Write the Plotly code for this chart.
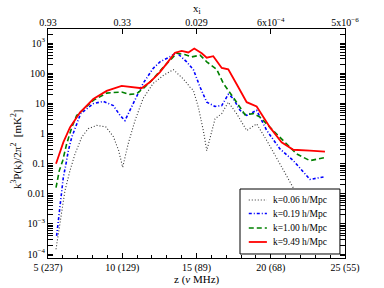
import plotly.graph_objects as go

# ---- data ----
z_k006 = [5.54, 5.69, 5.92, 6.14, 6.48, 6.82, 7.27, 7.71, 8.28, 8.9, 9.4, 9.75, 10.03, 10.4, 10.86,
          11.4, 12.08, 12.77, 13.44, 14.1, 14.56, 14.79, 15.12, 15.46, 15.69, 16.02, 16.25, 16.7,
          17.14, 17.7, 18.38, 19.05, 19.73, 20.62, 21.52, 22.3, 23.0]
p_k006 = [1.45e-4, 4.6e-4, 2.7e-3, 0.0126, 0.059, 0.21, 0.76, 1.45, 1.86, 1.66, 0.79, 0.28, 0.076,
          0.46, 2.7, 14.5, 46, 85, 132, 66, 35, 27, 7.6, 1.26, 0.27, 1.26, 3.1, 4.6, 11, 4.6, 1.26,
          2.1, 0.59, 0.098, 0.016, 3.2e-3, 6.3e-4]

z_k019 = [5.58, 5.69, 5.81, 5.92, 6.03, 6.21, 6.37, 6.6, 6.93, 7.2, 8.05, 8.72, 9.4, 9.85, 10.18,
          10.75, 11.4, 12.08, 12.54, 13.2, 13.67, 14.34, 14.79, 15.24, 15.69, 16.25, 16.7, 17.14,
          17.48, 17.93, 18.38, 19.05, 19.73, 20.62, 21.52, 22.64, 23.65]
p_k019 = [4e-4, 1.26e-3, 3.5e-3, 0.01, 0.035, 0.098, 0.27, 0.76, 2.1, 4.6, 9.8, 11.7, 8.5, 4.0, 2.7,
          9.8, 46, 145, 240, 350, 480, 240, 132, 35, 11, 7.9, 8.5, 20, 14.5, 5.9, 4.0, 5.9, 1.26,
          0.31, 0.126, 0.030, 0.037]

z_k100 = [5.54, 5.76, 5.99, 6.26, 6.6, 6.93, 7.5, 8.05, 8.95, 9.96, 10.5, 10.97, 11.4, 12.0, 12.77,
          13.67, 14.2, 14.68, 15.24, 15.69, 16.36, 16.81, 17.7, 18.27, 18.83, 19.28, 19.95, 20.73,
          21.75, 22.64, 23.65]
p_k100 = [0.016, 0.059, 0.126, 0.46, 1.6, 4.0, 7.1, 12.6, 22, 24, 20, 21, 31, 59, 160, 460, 420,
          350, 400, 240, 135, 46, 11, 4.2, 4.6, 3.5, 1.6, 0.66, 0.21, 0.126, 0.16]

z_k949 = [5.54, 6.03, 6.48, 7.15, 8.05, 8.95, 9.96, 10.6, 11.3, 11.87, 12.54, 12.99, 13.55, 14.0,
          14.45, 14.85, 15.35, 15.69, 16.13, 16.7, 17.14, 17.81, 18.38, 19.05, 19.95, 20.73, 21.52,
          22.64, 23.65]
p_k949 = [0.10, 0.51, 1.6, 5.0, 14, 26, 38, 35, 32, 51, 110, 210, 480, 550, 490, 660, 460, 330, 370,
          150, 135, 35, 11, 7.9, 1.6, 0.51, 0.29, 0.27, 0.25]

x_tickvals = [5, 10, 15, 20, 25]
x_ticktext = ["5 (237)", "10 (129)", "15 (89)", "20 (68)", "25 (55)"]
xi_ticktext = ["0.93", "0.33", "0.029", "6x10<sup>−4</sup>", "5x10<sup>−6</sup>"]
y_tickvals = [1e-4, 1e-3, 1e-2, 1e-1, 1, 10, 100, 1000]
y_ticktext = ["10<sup>−4</sup>", "10<sup>−3</sup>", "0.01", "0.1", "1", "10", "100", "10<sup>3</sup>"]
labels = ["k=0.06 h/Mpc", "k=0.19 h/Mpc", "k=1.00 h/Mpc", "k=9.49 h/Mpc"]

FONT = "Liberation Serif"

styles = [dict(color="#333333", width=1.1, dash="1px,2px"),
          dict(color="#0000ff", width=1.6, dash="3px,2px,1px,2px"),
          dict(color="#008000", width=1.6, dash="5px,3px"),
          dict(color="#ff0000", width=1.8)]
series = [(z_k006, p_k006), (z_k019, p_k019), (z_k100, p_k100), (z_k949, p_k949)]

fig = go.Figure()
for (zz, pp), lab, st in zip(series, labels, styles):
    fig.add_trace(go.Scatter(x=zz, y=pp, mode="lines", name=lab, line=st, showlegend=False))
# invisible helper trace so the top (x_i) axis is drawn
fig.add_trace(go.Scatter(x=z_k949, y=p_k949, xaxis="x2", yaxis="y", mode="lines",
                         line=dict(width=0, color="rgba(0,0,0,0)"), showlegend=False,
                         hoverinfo="skip"))

minor_y = [m * 10.0 ** e for e in range(-5, 4) for m in range(2, 10)]

# legend drawn as box + samples + labels (paper coordinates)
box = dict(x0=0.6465, x1=0.983, y0=0.0175, y1=0.3013)
entry_y = [0.2533, 0.1943, 0.1310, 0.0699]
shapes = [dict(type="rect", xref="paper", yref="paper", layer="above",
               fillcolor="white", line=dict(color="black", width=1), **box)]
annotations = []
for yy, lab, st in zip(entry_y, labels, styles):
    shapes.append(dict(type="line", xref="paper", yref="paper", layer="above",
                       x0=0.676, x1=0.737, y0=yy, y1=yy, line=st))
    annotations.append(dict(text=lab, xref="paper", yref="paper", x=0.752, y=yy,
                            xanchor="left", yanchor="middle", showarrow=False,
                            font=dict(size=9.5)))

annotations += [
    dict(text="z (<i>ν</i> MHz)", xref="paper", yref="paper", x=0.5, y=-0.092,
         xanchor="center", yanchor="middle", showarrow=False, font=dict(size=11)),
    dict(text="x<sub>i</sub>", xref="paper", yref="paper", x=0.5, y=1.087,
         xanchor="center", yanchor="middle", showarrow=False, font=dict(size=11)),
    dict(text="k<sup>3</sup>P(k)/2π<sup>2</sup>  [mK<sup>2</sup>]", xref="paper",
         yref="paper", x=-0.104, y=0.472, xanchor="center", yanchor="middle",
         textangle=-90, showarrow=False, font=dict(size=11)),
]

fig.update_layout(
    width=384, height=288,
    margin=dict(l=48, r=39, t=29, b=30, autoexpand=False),
    paper_bgcolor="white", plot_bgcolor="white",
    font=dict(family=FONT, size=10, color="black"),
    showlegend=False,
    xaxis=dict(range=[5, 25], tickvals=x_tickvals, ticktext=x_ticktext, automargin=False,
               ticks="inside", ticklen=5, tickcolor="black",
               minor=dict(ticks="inside", dtick=1, ticklen=3, tickcolor="black"),
               showline=True, linecolor="black", linewidth=1, mirror=True,
               showgrid=False, zeroline=False),
    xaxis2=dict(range=[5, 25], overlaying="x", side="top", anchor="y", automargin=False,
                tickvals=x_tickvals, ticktext=xi_ticktext,
                ticks="inside", ticklen=5, tickcolor="black",
                showline=False, showgrid=False, zeroline=False),
    yaxis=dict(type="log", range=[-4.13, 3.47], tickvals=y_tickvals, ticktext=y_ticktext,
               automargin=False,
               ticks="inside", ticklen=5, tickcolor="black",
               minor=dict(ticks="inside", tickvals=minor_y, ticklen=2.5, tickcolor="black"),
               showline=True, linecolor="black", linewidth=1, mirror="allticks",
               showgrid=False, zeroline=False),
    shapes=shapes,
    annotations=annotations,
)

fig.write_html("out.html", config={"displayModeBar": False},
               post_script="document.body.style.margin='0';")
